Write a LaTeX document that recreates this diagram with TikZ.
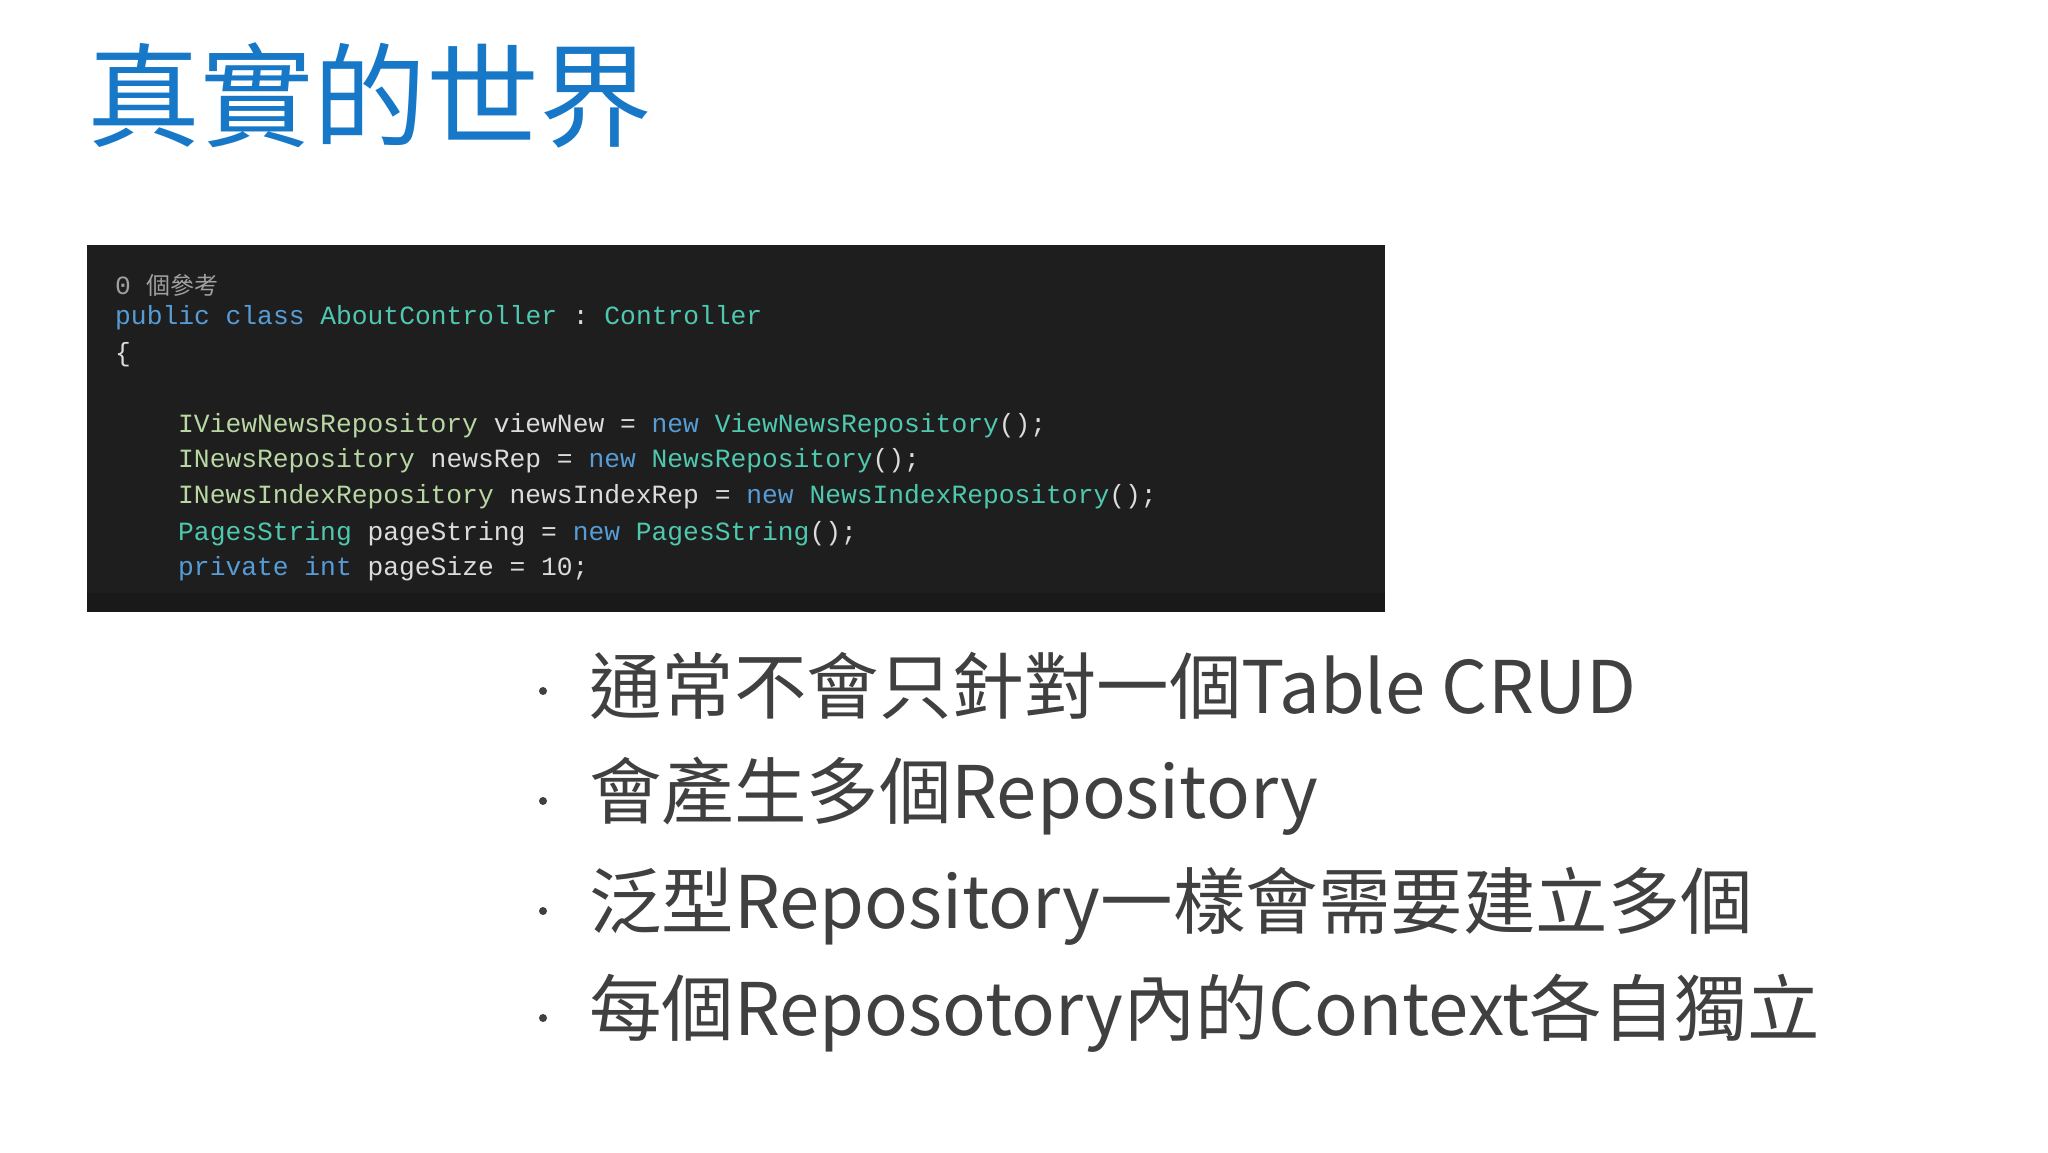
\documentclass[tikz,border=0pt]{standalone}
\usepackage{fontspec}
\setmainfont{Liberation Sans}
\setmonofont{Liberation Mono}
\newfontfamily\cjk{Noto Sans CJK TC}
\definecolor{titleblue}{HTML}{1878C8}
\definecolor{bodygray}{HTML}{404040}
\definecolor{codebg}{HTML}{1E1E1E}
\definecolor{kw}{HTML}{569CD6}
\definecolor{ty}{HTML}{4EC9B0}
\definecolor{itf}{HTML}{B8D7A3}
\definecolor{idn}{HTML}{DCDCDC}
\definecolor{cmt}{HTML}{A0A0A0}
\begin{document}
\begin{tikzpicture}[x=1pt,y=-1pt,
  codeline/.style={anchor=west,inner sep=0pt,font=\fontsize{26.3}{26}\selectfont\ttfamily,text=idn},
  bullet/.style={anchor=west,inner sep=0pt,font=\fontsize{72.5}{72}\selectfont\cjk,text=bodygray},
  dot/.style={circle,fill=bodygray,inner sep=0pt,minimum size=8pt}]
\useasboundingbox (0,0) rectangle (2048,1152);
\fill[white] (0,0) rectangle (2048,1152);
\node[anchor=west,inner sep=0pt,font=\fontsize{113}{113}\selectfont\cjk,text=titleblue] (title) at (87,95) {真實的世界};
\fill[codebg] (87,245) rectangle (1385,612);
\fill[black!90] (87,593) rectangle (1385,612);
\node[codeline,text=cmt] (c0) at (115,285) {0 {\cjk\fontsize{24}{24}\selectfont 個參考}};
\node[codeline] (c1) at (115,318) {\textcolor{kw}{public class} \textcolor{ty}{AboutController} : \textcolor{ty}{Controller}};
\node[codeline] (c2) at (115,355) {\{};
\node[codeline] (c3) at (178,426) {\textcolor{itf}{IViewNewsRepository} viewNew = \textcolor{kw}{new} \textcolor{ty}{ViewNewsRepository}();};
\node[codeline] (c4) at (178,461) {\textcolor{itf}{INewsRepository} newsRep = \textcolor{kw}{new} \textcolor{ty}{NewsRepository}();};
\node[codeline] (c5) at (178,497) {\textcolor{itf}{INewsIndexRepository} newsIndexRep = \textcolor{kw}{new} \textcolor{ty}{NewsIndexRepository}();};
\node[codeline] (c6) at (178,534) {\textcolor{ty}{PagesString} pageString = \textcolor{kw}{new} \textcolor{ty}{PagesString}();};
\node[codeline] (c7) at (178,569) {\textcolor{kw}{private int} pageSize = 10;};
\foreach \y/\t [count=\i] in {691/{通常不會只針對一個Table CRUD},801/{會產生多個Repository},911/{泛型Repository一樣會需要建立多個},1018/{每個Reposotory內的Context各自獨立}}{
  \node[dot] (d\i) at (543,\y) {};
  \node[bullet] (b\i) at (589,\y-5) {\t};
}
\end{tikzpicture}
\end{document}
